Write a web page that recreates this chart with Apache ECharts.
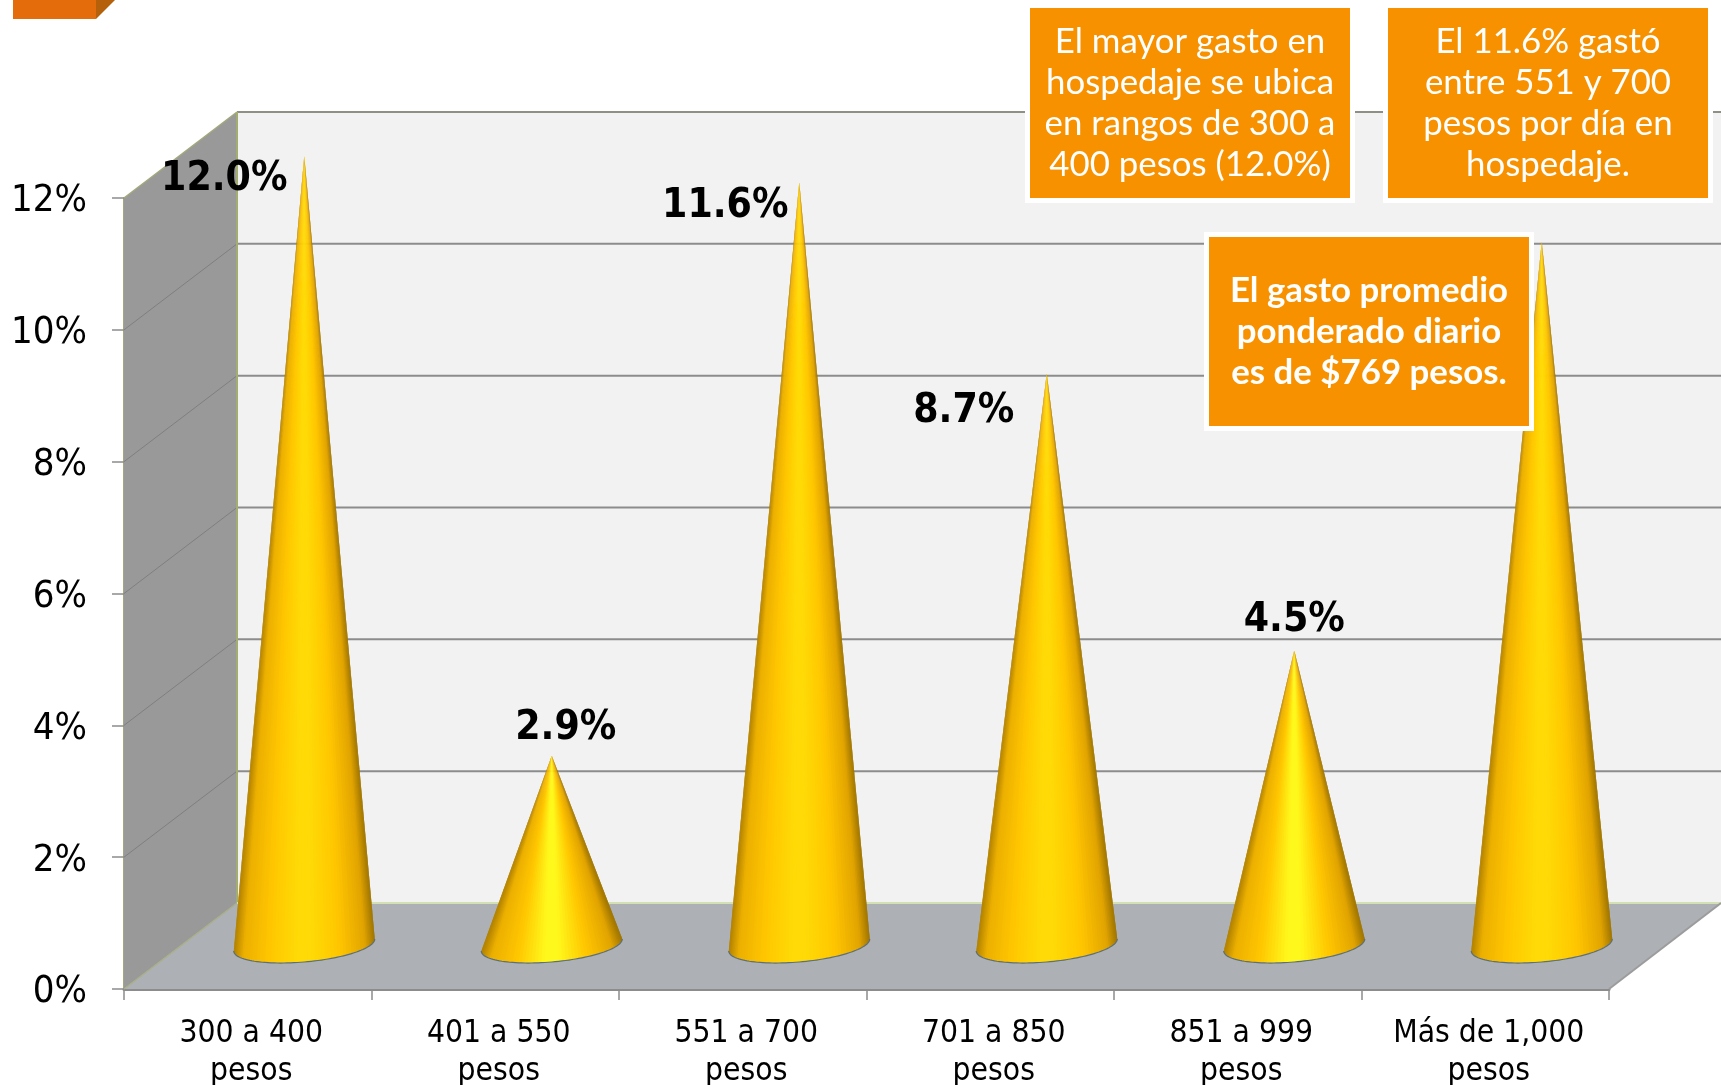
<!DOCTYPE html>
<html>
<head>
<meta charset="utf-8">
<title>Gasto diario en hospedaje</title>
<style>html,body{margin:0;padding:0;background:#fff}#chart{width:1721px;height:1085px}</style>
<script src="https://cdn.jsdelivr.net/npm/echarts@6/dist/echarts.min.js"></script>
</head>
<body>
<div id="chart"></div>
<script>
// Data
const categories = ['300 a 400\npesos', '401 a 550\npesos', '551 a 700\npesos', '701 a 850\npesos', '851 a 999\npesos', 'Más de 1,000\npesos'];
const shares = [12.0, 2.9, 11.6, 8.7, 4.5, 10.7];
const yTicks = [0, 2, 4, 6, 8, 10, 12];
const noteMayor = 'El mayor gasto en\nhospedaje se ubica\nen rangos de 300 a\n400 pesos (12.0%)';
const noteRango = 'El 11.6% gastó\nentre 551 y 700\npesos por día en\nhospedaje.';
const notePromedio = 'El gasto promedio\nponderado diario\nes de $769 pesos.';

// Value label placement relative to each cone tip; the last cone has no visible label
const labelOffsets = [[-80, 23], [14, -27], [-74, 24], [-83, 38], [0, -30], null];

// Depth of the 3D box, in pixels
const DEPTH_X = 113, DEPTH_Y = 86, CANVAS_RIGHT = 1721;
const BASE_A = 70.5, BASE_TILT = 6, BASE_B = 17;
const AXIS_FONT = "'DejaVu Sans Condensed','DejaVu Sans',sans-serif";

function lerp(a, b, t) { return a + (b - a) * t; }
function mixStops(stops, u) {
  for (let i = 1; i < stops.length; i++) {
    if (u <= stops[i][0]) {
      const s = stops[i - 1], e = stops[i];
      const t = (u - s[0]) / (e[0] - s[0]);
      return 'rgb(' + [0, 1, 2].map(k => Math.round(lerp(s[1][k], e[1][k], t))).join(',') + ')';
    }
  }
  const last = stops[stops.length - 1][1];
  return 'rgb(' + last.join(',') + ')';
}
// Lighting across the cone, from -1 (left rim) to 1 (right rim)
function shade(u, bright) {
  const mid = bright ? [255, 248, 28] : [255, 218, 6];
  return mixStops([
    [-1, [178, 130, 0]], [-0.86, [236, 176, 0]], [-0.5, [255, 198, 0]],
    [-0.1, mid], [0.1, mid], [0.5, [255, 198, 0]], [0.86, [226, 164, 0]], [1, [160, 118, 0]]
  ], u);
}

function renderBox(params, api) {
  const cs = params.coordSys;
  const L = cs.x, R = cs.x + cs.width, T = cs.y, B = cs.y + cs.height;
  const poly = (points, fill) => ({ type: 'polygon', shape: { points }, style: { fill } });
  const seg = (x1, y1, x2, y2, stroke, lineWidth) => ({
    type: 'line', shape: { x1, y1, x2, y2 }, style: { stroke, lineWidth }
  });
  const bx = L + DEPTH_X, by = B - DEPTH_Y, ty = T - DEPTH_Y;
  const children = [
    poly([[bx, ty], [CANVAS_RIGHT, ty], [CANVAS_RIGHT, by], [bx, by]], '#f2f2f2'),
    poly([[L, B], [bx, by], [bx, ty], [L, T]], '#999999'),
    poly([[L, B], [bx, by], [CANVAS_RIGHT, by], [R, B]], '#adb0b5')
  ];
  yTicks.forEach(t => {
    const y = api.coord([0, t])[1];
    if (t > 0) {
      children.push(seg(bx, y - DEPTH_Y, CANVAS_RIGHT, y - DEPTH_Y, t === 12 ? '#8f8f85' : '#8c8c8c', 2));
      if (t < 12) children.push(seg(L, y, bx, y - DEPTH_Y, '#7f7f7f', 1));
    }
  });
  children.push(seg(L, T, bx, ty, '#a3a87c', 1.5));
  children.push(seg(bx, ty, bx, by, '#a3ad70', 2));
  children.push(seg(L, B, bx, by, '#a8b088', 1.5));
  children.push(seg(bx, by, CANVAS_RIGHT, by, '#d3e0b4', 2));
  children.push(seg(R, B, CANVAS_RIGHT, by, '#9c9c9c', 2));
  return { type: 'group', children };
}

function renderCone(params, api) {
  const i = api.value(0), v = api.value(1);
  const top = api.coord([i, v]), foot = api.coord([i, 0]);
  const cx = foot[0] + DEPTH_X / 2, cy = foot[1] - DEPTH_Y / 2 - 1;
  const tip = [top[0] + DEPTH_X / 2, top[1] - DEPTH_Y / 2 + 1];
  const bright = v < 6;
  const rim = t => [cx + BASE_A * Math.cos(t), cy - BASE_TILT * Math.cos(t) + BASE_B * Math.sin(t)];
  const children = [];
  const N = 64;
  // Fan of slices from the tip to the rim; each slice overlaps the next to hide seams
  for (let k = 0; k < N; k++) {
    const t0 = Math.PI * (1 - k / N), t1 = Math.PI * (1 - Math.min(k + 2, N) / N);
    const u = Math.cos(Math.PI * (1 - (k + 0.5) / N));
    children.push({
      type: 'polygon',
      shape: { points: [tip, rim(t0), rim(Math.PI * (1 - (k + 1) / N)), rim(t1)] },
      style: { fill: shade(u, bright) }
    });
  }
  const arc = [];
  for (let k = 0; k <= N; k++) arc.push(rim(Math.PI * k / N));
  children.push({ type: 'polyline', shape: { points: arc }, style: { fill: null, stroke: '#5d7078', lineWidth: 1.2 } });
  const off = labelOffsets[i];
  if (off) {
    children.push({
      type: 'text', z2: 10,
      style: {
        text: v.toFixed(1) + '%', x: tip[0] + off[0], y: tip[1] + off[1],
        align: 'center', verticalAlign: 'middle',
        font: "bold 40.5px 'DejaVu Sans Condensed','DejaVu Sans',sans-serif", fill: '#000'
      }
    });
  }
  return { type: 'group', children };
}

function note(text, x, y, w, h, bold) {
  return [
    { type: 'rect', z: 50, shape: { x: x - 5, y: y - 5, width: w + 10, height: h + 10 }, style: { fill: '#ffffff' } },
    { type: 'rect', z: 51, shape: { x, y, width: w, height: h }, style: { fill: '#f79100' } },
    {
      type: 'text', z: 52,
      style: {
        text, x: x + w / 2, y: y + h / 2, align: 'center', verticalAlign: 'middle',
        font: (bold ? 'bold ' : '') + "34.8px Lato,sans-serif", lineHeight: 41, fill: '#ffffff'
      }
    }
  ];
}

const chart = echarts.init(document.getElementById('chart'), null, { renderer: 'canvas' });
chart.setOption({
  animation: false,
  backgroundColor: '#ffffff',
  grid: { left: 124, right: 112, top: 198, bottom: 96, containLabel: false, outerBoundsMode: 'none' },
  xAxis: {
    type: 'category', data: categories, boundaryGap: true,
    axisLine: { show: true, lineStyle: { color: '#8c8c8c', width: 3 } },
    axisTick: { show: true, alignWithLabel: false, length: 11, lineStyle: { color: '#8c8c8c', width: 1.5 } },
    axisLabel: {
      interval: 0, margin: 26, fontFamily: AXIS_FONT, fontSize: 31.5, lineHeight: 38, color: '#000',
      padding: [0, 0, 0, 7]
    }
  },
  yAxis: {
    type: 'value', min: 0, max: 12, interval: 2,
    splitLine: { show: false },
    axisLine: { show: true, lineStyle: { color: '#a3a87c', width: 2 } },
    axisTick: { show: true, length: 12, lineStyle: { color: '#8c8c8c', width: 1.5 } },
    axisLabel: {
      margin: 37, color: '#000', formatter: '{t|{value}%}',
      rich: { t: { fontFamily: AXIS_FONT, fontSize: 38, color: '#000', padding: [7, 0, 0, 0] } }
    }
  },
  graphic: [
    { type: 'polygon', z: 40, shape: { points: [[96, 19], [115, 0], [96, 0]] }, style: { fill: '#b5610c' } },
    { type: 'rect', z: 40, shape: { x: 13, y: 0, width: 83, height: 19 }, style: { fill: '#e46c0a' } }
  ].concat(
    note(noteMayor, 1030, 8, 320, 190, false),
    note(noteRango, 1388, 8, 320, 190, false),
    note(notePromedio, 1209, 237, 320, 189, true)
  ),
  series: [
    { type: 'custom', name: 'caja', z: 1, silent: true, coordinateSystem: 'cartesian2d', data: [[0, 0]], renderItem: renderBox, clip: false },
    {
      type: 'custom', name: 'Porcentaje', z: 3, silent: true, coordinateSystem: 'cartesian2d',
      data: shares.map((v, i) => [i, v]), encode: { x: 0, y: 1 }, renderItem: renderCone, clip: false
    }
  ]
});
</script>
</body>
</html>
